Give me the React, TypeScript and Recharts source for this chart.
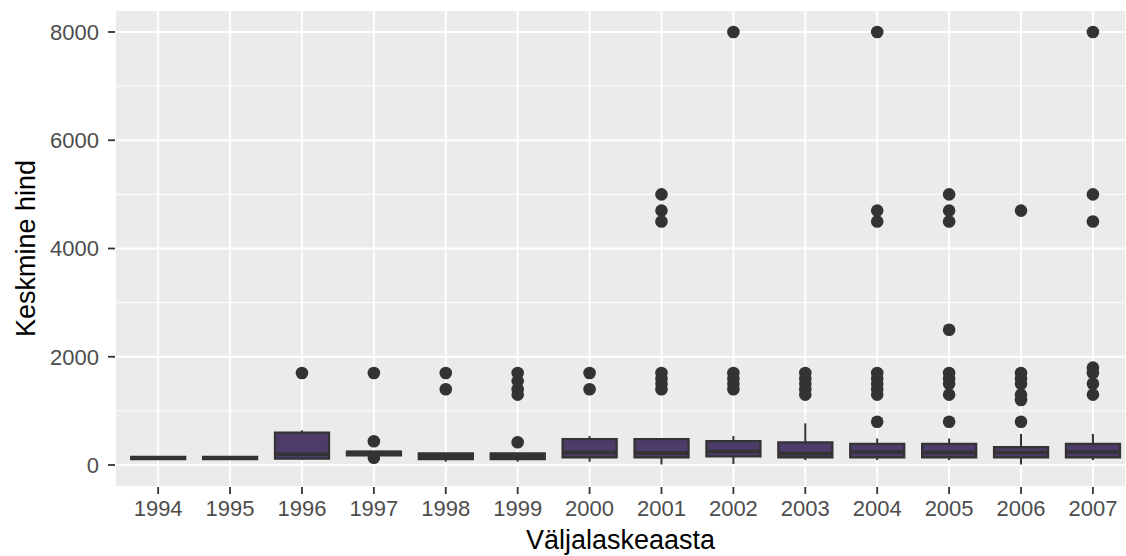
import React from "react";
import {
  ComposedChart,
  Bar,
  Scatter,
  ErrorBar,
  XAxis,
  YAxis,
  CartesianGrid,
  ReferenceLine,
} from "recharts";

// box statistics per release year
const years = [1994, 1995, 1996, 1997, 1998, 1999, 2000, 2001, 2002, 2003, 2004, 2005, 2006, 2007];
const lowerWhisker = [105, 105, 100, 180, 60, 60, 60, 10, 20, 90, 90, 90, 10, 90];
const q1 = [108, 108, 120, 180, 110, 110, 140, 140, 160, 140, 140, 140, 140, 140];
const median = [130, 128, 200, 230, 160, 160, 230, 220, 250, 210, 240, 230, 230, 240];
const q3 = [152, 148, 600, 245, 215, 215, 480, 480, 440, 420, 390, 390, 330, 390];
const upperWhisker = [155, 150, 640, 255, 220, 220, 535, 480, 535, 770, 490, 490, 575, 575];
const outliers = [
  [],
  [],
  [1700],
  [135, 440, 1700],
  [1400, 1700],
  [420, 1300, 1400, 1550, 1700],
  [1400, 1700],
  [1400, 1500, 1600, 1700, 4500, 4700, 5000],
  [1400, 1500, 1600, 1700, 8000],
  [1300, 1400, 1500, 1600, 1700],
  [800, 1300, 1400, 1500, 1600, 1700, 4500, 4700, 8000],
  [800, 1300, 1500, 1600, 1700, 2500, 4500, 4700, 5000],
  [800, 1200, 1300, 1500, 1600, 1700, 4700],
  [1300, 1500, 1700, 1800, 4500, 5000, 8000],
];
const yTicks = [0, 2000, 4000, 6000, 8000];
const yMinor = [1000, 3000, 5000, 7000];

const boxData = years.map((year, i) => ({
  year,
  box: [q1[i], q3[i]],
  q1: q1[i],
  q3: q3[i],
  median: median[i],
  lowErr: [q1[i] - lowerWhisker[i], 0],
  highErr: [0, upperWhisker[i] - q3[i]],
}));

const outlierData = years.flatMap((year, i) => outliers[i].map((value) => ({ year, value })));

const font = "'Liberation Sans', Arial, Helvetica, sans-serif";
const BOX_HALF = 27;
const INK = "#333333";

const MedianLine = (props: any) => {
  const { cx, cy } = props;
  return <line x1={cx - BOX_HALF} x2={cx + BOX_HALF} y1={cy} y2={cy} stroke={INK} strokeWidth={3.6} />;
};

const Dot = (props: any) => <circle cx={props.cx} cy={props.cy} r={6.3} fill={INK} />;

const Nothing = () => <g />;

export default function App() {
  return (
    <div style={{ position: "absolute", left: 0, top: 0, fontFamily: font }}>
      <ComposedChart
        width={1126}
        height={556}
        data={boxData}
        margin={{ top: 10, right: 0, bottom: 0, left: 0 }}
      >
        <CartesianGrid fill="#EBEBEB" stroke="#FFFFFF" strokeWidth={1.9} />
        {yMinor.map((v) => (
          <ReferenceLine key={v} y={v} stroke="#FFFFFF" strokeWidth={0.95} />
        ))}
        <XAxis
          dataKey="year"
          type="number"
          scale="linear"
          domain={[1993.4, 2007.46]}
          ticks={years}
          allowDataOverflow
          height={69}
          axisLine={false}
          tickSize={7}
          tickMargin={6}
          tickLine={{ stroke: INK, strokeWidth: 1.8 }}
          tick={{ fill: "#4D4D4D", fontSize: 22, fontFamily: font }}
          label={{
            value: "Väljalaskeaasta",
            position: "insideBottom",
            offset: 7,
            fill: "#000000",
            fontSize: 27,
            fontFamily: font,
          }}
        />
        <YAxis
          type="number"
          domain={[-406, 8406]}
          ticks={yTicks}
          allowDataOverflow
          width={115}
          axisLine={false}
          tickSize={7}
          tickMargin={9}
          tickLine={{ stroke: INK, strokeWidth: 1.8 }}
          tick={{ fill: "#4D4D4D", fontSize: 22, fontFamily: font }}
          label={{
            value: "Keskmine hind",
            angle: -90,
            position: "insideLeft",
            offset: 25,
            fill: "#000000",
            fontSize: 27,
            fontFamily: font,
            style: { textAnchor: "middle" },
          }}
        />
        <Scatter dataKey="q1" shape={Nothing} isAnimationActive={false}>
          <ErrorBar dataKey="lowErr" direction="y" width={0} stroke={INK} strokeWidth={2} />
        </Scatter>
        <Scatter dataKey="q3" shape={Nothing} isAnimationActive={false}>
          <ErrorBar dataKey="highErr" direction="y" width={0} stroke={INK} strokeWidth={2} />
        </Scatter>
        <Bar
          dataKey="box"
          barSize={54}
          fill="#4D3C69"
          stroke={INK}
          strokeWidth={2.3}
          isAnimationActive={false}
        />
        <Scatter dataKey="median" shape={MedianLine} isAnimationActive={false} />
        <Scatter data={outlierData} dataKey="value" shape={Dot} isAnimationActive={false} />
      </ComposedChart>
    </div>
  );
}
